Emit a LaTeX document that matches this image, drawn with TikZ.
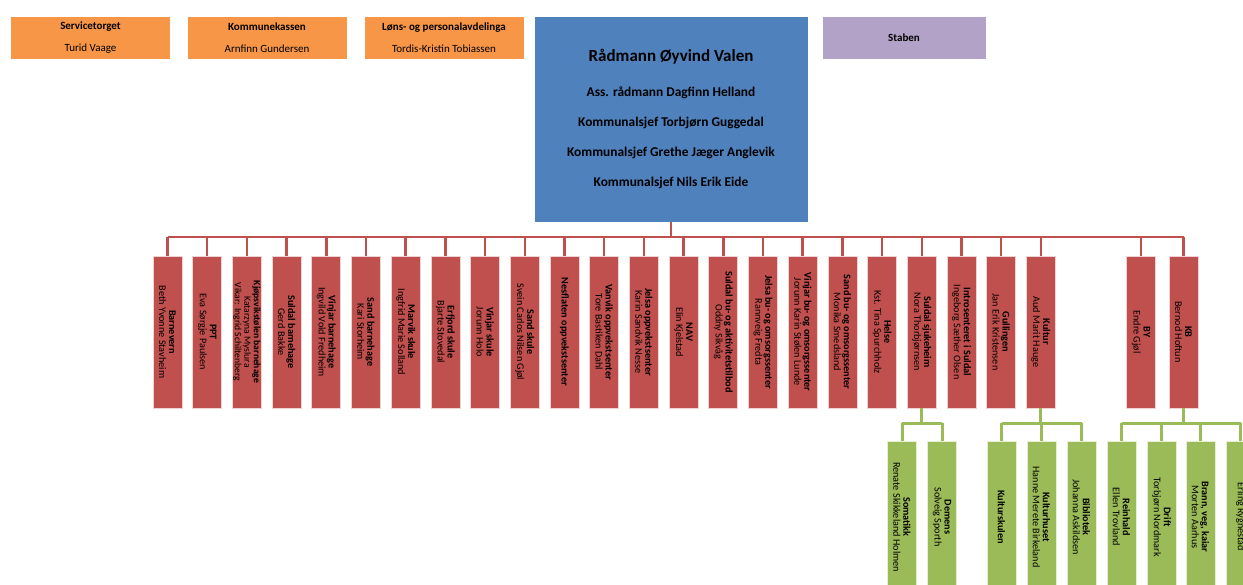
\documentclass[tikz,border=0pt]{standalone}
\usepackage{fontspec}
\setmainfont{Carlito}
\definecolor{orangefill}{HTML}{F79646}
\definecolor{bluefill}{HTML}{4F81BD}
\definecolor{purplefill}{HTML}{B3A2C7}
\definecolor{redfill}{HTML}{C0504D}
\definecolor{greenfill}{HTML}{9BBB59}
\usetikzlibrary{calc}

\begin{document}
\begin{tikzpicture}[x=1pt,y=-1pt,
  topbox/.style={fill=#1, draw=white, line width=0.6pt, align=center,
    minimum width=160pt, minimum height=43pt, inner sep=0pt,
    font=\fontsize{11}{22.5}\selectfont},
  unitbox/.style={fill=#1, draw=white!75!#1, line width=0.8pt, rotate=-90,
    align=center, minimum width=152pt, minimum height=29pt, inner sep=0.2pt,
    font=\fontsize{10.2}{10}\selectfont},
  redline/.style={draw=redfill, line width=2.5pt},
  greenline/.style={draw=greenfill, line width=3pt}]
\useasboundingbox (0,0) rectangle (1243,584);
% Coordinates
\coordinate (bus) at (0,237);
\coordinate (sbus) at (0,423);
% Top row
\node[topbox=orangefill] (service) at (90.5,37.5) {\textbf{Servicetorget}\\Turid Vaage};
\node[topbox=orangefill] (kasse) at (267,37.5) {\textbf{Kommunekassen}\\Arnfinn Gundersen};
\node[topbox=orangefill] (lonn) at (444,37.5) {\textbf{Løns- og personalavdelinga}\\Tordis-Kristin Tobiassen};
\node[topbox=bluefill, minimum width=274pt, minimum height=206pt,
  font=\bfseries\fontsize{13.4}{30}\selectfont] (raad) at (671,119)
  {{\fontsize{17}{30}\selectfont Rådmann Øyvind Valen}\\[5pt]
   Ass. rådmann Dagfinn Helland\\
   Kommunalsjef Torbjørn Guggedal\\
   Kommunalsjef Grethe Jæger Anglevik\\
   Kommunalsjef Nils Erik Eide};
\node[topbox=purplefill, minimum width=164pt] (staben) at (904,37.5) {\textbf{Staben}};
% Units
\node[unitbox=redfill] (b1) at (167.5,332) {\textbf{Barnevern}\\Beth Yvonne Stavheim};
\node[unitbox=redfill] (b2) at (207.2,332) {\textbf{PPT}\\Eva Sørgje Paulsen};
\node[unitbox=redfill, font=\fontsize{9.6}{9.4}\selectfont] (b3) at (246.9,332) {\textbf{Kjøpsvikstølen barnehage}\\Katarzyna Myslura\\Vikar: Ingrid Schiltenberg};
\node[unitbox=redfill] (b4) at (286.6,332) {\textbf{Suldal barnehage}\\Gerd Bakke};
\node[unitbox=redfill] (b5) at (326.3,332) {\textbf{Vinjar barnehage}\\Ingvild Vold Fredheim};
\node[unitbox=redfill] (b6) at (366.0,332) {\textbf{Sand barnehage}\\Kari Storheim};
\node[unitbox=redfill] (b7) at (405.7,332) {\textbf{Marvik skule}\\Ingfrid Marie Solland};
\node[unitbox=redfill] (b8) at (445.4,332) {\textbf{Erfjord skule}\\Bjarte Stovedal};
\node[unitbox=redfill] (b9) at (485.1,332) {\textbf{Vinjar skule}\\Jorunn Holo};
\node[unitbox=redfill] (b10) at (524.8,332) {\textbf{Sand skule}\\Svein Carlos Nilsen Gjøl};
\node[unitbox=redfill] (b11) at (564.5,332) {\textbf{Nesflaten oppvekstsenter}};
\node[unitbox=redfill] (b12) at (604.2,332) {\textbf{Vanvik oppvekstsenter}\\Tore Bastiken Dahl};
\node[unitbox=redfill] (b13) at (643.9,332) {\textbf{Jelsa oppvekstsenter}\\Karin Sandvik Nesse};
\node[unitbox=redfill] (b14) at (683.6,332) {\textbf{NAV}\\Elin Kjelstad};
\node[unitbox=redfill] (b15) at (723.3,332) {\textbf{Suldal bu- og aktivitetstilbod}\\Oddny Sikvåg};
\node[unitbox=redfill] (b16) at (763.0,332) {\textbf{Jelsa bu- og omsorgssenter}\\Rannveig Fredta};
\node[unitbox=redfill] (b17) at (802.7,332) {\textbf{Vinjar bu- og omsorgssenter}\\Jorunn Karin Stølen Lunde};
\node[unitbox=redfill] (b18) at (842.4,332) {\textbf{Sand bu- og omsorgssenter}\\Monika Smedsland};
\node[unitbox=redfill] (b19) at (882.1,332) {\textbf{Helse}\\Kst. Tina Spurchholz};
\node[unitbox=redfill] (b20) at (921.8,332) {\textbf{Suldal sjukeheim}\\Nora Thorbjørnsen};
\node[unitbox=redfill] (b21) at (961.5,332) {\textbf{Introsenteret i Suldal}\\Ingeborg Sæther Olsen};
\node[unitbox=redfill] (b22) at (1001.2,332) {\textbf{Gullingen}\\Jan Erik Kristensen};
\node[unitbox=redfill] (b23) at (1040.9,332) {\textbf{Kultur}\\Aud Marit Hauge};
\node[unitbox=redfill] (b24) at (1141,332) {\textbf{BY}\\Endre Gjøl};
\node[unitbox=redfill] (b25) at (1183.5,332) {\textbf{KB}\\Bernod Hoftun};
% Sub units
\node[unitbox=greenfill] (g1) at (902,517) {\textbf{Somatikk}\\Renate Skikkeland Holmen};
\node[unitbox=greenfill] (g2) at (942,517) {\textbf{Demens}\\Solveig Sporth};
\node[unitbox=greenfill] (g3) at (1001.5,517) {\textbf{Kulturskulen}};
\node[unitbox=greenfill] (g4) at (1041.5,517) {\textbf{Kulturhuset}\\Hanne Merete Birkeland};
\node[unitbox=greenfill] (g5) at (1081.5,517) {\textbf{Bibliotek}\\Johanna Askildsen};
\node[unitbox=greenfill] (g6) at (1121.5,517) {\textbf{Reinhald}\\Ellen Trovland};
\node[unitbox=greenfill] (g7) at (1161.5,517) {\textbf{Drift}\\Torbjørn Nordmark};
\node[unitbox=greenfill] (g8) at (1200.5,517) {\textbf{Brann, veg, kaiar}\\Morten Aarhus};
\node[unitbox=greenfill] (g9) at (1240.5,517) {Erling Rygnestad};
% Draw red lines
\draw[redline] (raad.south) -- (raad.south |- bus);
\draw[redline] (b1.west |- bus) -- (b25.west |- bus);
\draw[redline]
  (b1.west) -- (b1.west |- bus) (b2.west) -- (b2.west |- bus)
  (b3.west) -- (b3.west |- bus) (b4.west) -- (b4.west |- bus)
  (b5.west) -- (b5.west |- bus) (b6.west) -- (b6.west |- bus)
  (b7.west) -- (b7.west |- bus) (b8.west) -- (b8.west |- bus)
  (b9.west) -- (b9.west |- bus) (b10.west) -- (b10.west |- bus)
  (b11.west) -- (b11.west |- bus) (b12.west) -- (b12.west |- bus)
  (b13.west) -- (b13.west |- bus) (b14.west) -- (b14.west |- bus)
  (b15.west) -- (b15.west |- bus) (b16.west) -- (b16.west |- bus)
  (b17.west) -- (b17.west |- bus) (b18.west) -- (b18.west |- bus)
  (b19.west) -- (b19.west |- bus) (b20.west) -- (b20.west |- bus)
  (b21.west) -- (b21.west |- bus) (b22.west) -- (b22.west |- bus)
  (b23.west) -- (b23.west |- bus) (b24.west) -- (b24.west |- bus)
  (b25.west) -- (b25.west |- bus);
% Draw green lines
\draw[greenline] (b20.east) -- (b20.east |- sbus)
  (g1.west |- sbus) -- (g2.west |- sbus)
  (g1.west) -- (g1.west |- sbus) (g2.west) -- (g2.west |- sbus);
\draw[greenline] (b23.east) -- (b23.east |- sbus)
  (g3.west |- sbus) -- (g5.west |- sbus)
  (g3.west) -- (g3.west |- sbus) (g4.west) -- (g4.west |- sbus)
  (g5.west) -- (g5.west |- sbus);
\draw[greenline] (b25.east) -- (b25.east |- sbus)
  (g6.west |- sbus) -- (g9.west |- sbus)
  (g6.west) -- (g6.west |- sbus) (g7.west) -- (g7.west |- sbus)
  (g8.west) -- (g8.west |- sbus) (g9.west) -- (g9.west |- sbus);
\end{tikzpicture}
\end{document}
